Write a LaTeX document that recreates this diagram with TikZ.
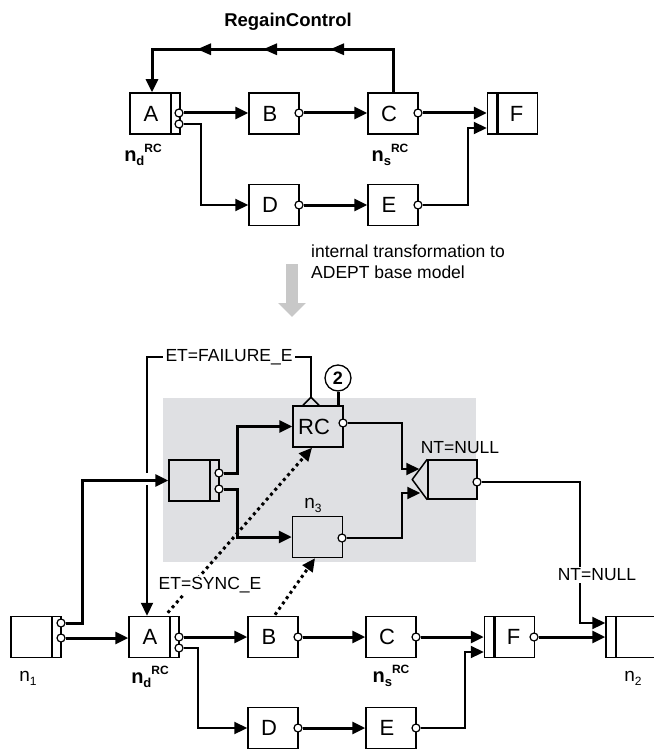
\documentclass[tikz,border=0pt]{standalone}
\usepackage{fontspec}
\setmainfont{Liberation Sans}
\usepackage{tikz}
\usetikzlibrary{arrows.meta,positioning,calc,decorations.markings}
\definecolor{panelgray}{RGB}{223,224,227}
\definecolor{arrowgray}{RGB}{200,200,200}
\newcommand{\boxfont}{\fontsize{22}{24}\selectfont}
\newcommand{\labfont}{\fontsize{17.5}{21}\selectfont}
\newcommand{\lft}[1]{#1\hspace*{8pt}}
\newcommand{\nrc}[1]{{\bfseries\fontsize{20}{20}\selectfont n\raisebox{-4pt}{\fontsize{13}{13}\selectfont #1}\raisebox{9pt}{\fontsize{12}{12}\selectfont RC}}}
\newcommand{\nidx}[1]{{\fontsize{19}{19}\selectfont n\raisebox{-4pt}{\fontsize{12}{12}\selectfont #1}}}

\begin{document}
\begin{tikzpicture}[x=1pt, y=-1pt,
    task/.style={draw, line width=1.5pt, minimum width=50pt, minimum height=41pt, inner sep=0pt, font=\boxfont},
    andsplit/.style={task, path picture={
        \draw[line width=2.6pt] ([xshift=-9pt]path picture bounding box.north east) -- ([xshift=-9pt]path picture bounding box.south east);}},
    andjoin/.style={task, path picture={
        \draw[line width=2.6pt] ([xshift=10pt]path picture bounding box.north west) -- ([xshift=10pt]path picture bounding box.south west);}},
    white box/.style={fill=white},
    port/.style={circle, draw, line width=1.2pt, fill=white, minimum size=8pt, inner sep=0pt},
    flow/.style={line width=3pt, -{Triangle[length=13pt,width=12pt]}},
    flowthin/.style={line width=2.2pt, -{Triangle[length=13pt,width=12pt]}},
    sync/.style={line width=3pt, dash pattern=on 3pt off 3.5pt, -{Triangle[length=13pt,width=12pt]}},
    lab/.style={font=\labfont, inner sep=2pt},
    backloop/.style={line width=3pt, -{Triangle[length=13pt,width=12pt]}, postaction={decorate},
        decoration={markings,
            mark=at position 106pt with {\arrow{Triangle[length=14pt,width=11pt]}},
            mark=at position 173pt with {\arrow{Triangle[length=14pt,width=11pt]}},
            mark=at position 239pt with {\arrow{Triangle[length=14pt,width=11pt]}}}}
]
    \useasboundingbox (0,0) rectangle (653,749);

    % Oberes Modell mit RegainControl
    \node[font=\fontsize{18.5}{20}\selectfont\bfseries] (title) at (288,22) {RegainControl};
    \node[andsplit, white box] (tA) at (155,113.5) {\lft{A}};
    \node[task, white box] (tB) at (274,113.5) {\lft{B}};
    \node[task, white box] (tC) at (393,113.5) {\lft{C}};
    \node[andjoin, white box] (tF) at (512.5,113.5) {\hspace*{8pt}F};
    \node[task, white box] (tD) at (274,205) {\lft{D}};
    \node[task, white box] (tE) at (393,205) {\lft{E}};
    \node[port] (tAo1) at (179,113) {};
    \node[port] (tAo2) at (179,124) {};
    \node[port] (tBo) at (299,113) {};
    \node[port] (tCo) at (418,113) {};
    \node[port] (tDo) at (299,205) {};
    \node[port] (tEo) at (418,205) {};
    \node (tAlab) at (143,155) {\nrc{d}};
    \node (tClab) at (390,155) {\nrc{s}};

    \draw[flow] (tAo1.east) -- (tAo1.east -| tB.west);
    \draw[flowthin] (tAo2.east) -- ++(17,0) |- (tD.west);
    \draw[flow] (tBo.east) -- (tBo.east -| tC.west);
    \draw[flow] (tCo.east) -- (tCo.east -| tF.west);
    \draw[flow] (tDo.east) -- (tDo.east -| tE.west);
    \draw[flowthin] (tEo.east) -- ++(45,0) |- ([yshift=-14.5pt]tF.west);
    \draw[backloop] (tC.north) -- ++(0,-43) -| ([xshift=-3pt]tA.north);

    % Transformation
    \draw[line width=12pt, draw=arrowgray, -{Triangle[length=14pt,width=27pt]}] (292,264) -- (292,317);
    \node[lab, anchor=west, align=left] (trafo) at (309,262) {internal transformation to\\ADEPT base model};

    % Unteres Modell (ADEPT-Basismodell)
    \fill[panelgray] (163,398) rectangle (476,562);
    \node[andsplit] (S) at (194,480.5) {};
    \node[task] (RC) at (318,426.5) {\lft{RC}};
    \node[task] (n3) at (317.5,537) {};
    \node[task, minimum width=49pt, minimum height=39pt] (J) at (452.5,479.5) {};
    \draw[line width=1.5pt] (J.north west) -- ([xshift=-15pt]J.west) -- (J.south west);
    \node[lab] (n3lab) at (313,505) {\nidx{3}};
    \node[lab] (Jlab) at (460,448) {NT=NULL};

    \node[andsplit, white box] (n1) at (36,637) {};
    \node[andsplit, white box] (bA) at (154,637) {\lft{A}};
    \node[task, white box] (bB) at (273,637) {\lft{B}};
    \node[task, white box] (bC) at (391,637) {\lft{C}};
    \node[andjoin, white box] (bF) at (509.5,637) {\hspace*{8pt}F};
    \node[andjoin, white box] (n2) at (631,637) {};
    \node[task, white box] (bD) at (273,728) {\lft{D}};
    \node[task, white box] (bE) at (391,728) {\lft{E}};
    \node (n1lab) at (28,678) {\nidx{1}};
    \node (bAlab) at (150,677) {\nrc{d}};
    \node (bClab) at (391,676) {\nrc{s}};
    \node (n2lab) at (633,678) {\nidx{2}};

    \node[port] (So1) at (219,473) {};
    \node[port] (So2) at (219,489) {};
    \node[port] (RCo) at (343,423) {};
    \node[port] (n3o) at (342,538) {};
    \node[port] (Jo) at (477,482) {};
    \node[port] (n1o1) at (61,623) {};
    \node[port] (n1o2) at (61,638) {};
    \node[port] (bAo1) at (179,637) {};
    \node[port] (bAo2) at (179,648) {};
    \node[port] (bBo) at (298,637) {};
    \node[port] (bCo) at (416,637) {};
    \node[port] (bFo) at (534,637) {};
    \node[port] (bDo) at (298,728) {};
    \node[port] (bEo) at (416,728) {};

    % Fehlerkante und Schleifenzaehler
    \coordinate (rcin) at ([xshift=-7pt,yshift=8pt]RC.north);
    \draw[line width=1.5pt] ([xshift=-15pt]RC.north) -- (rcin) -- ([xshift=1pt]RC.north);
    \draw[flowthin] (rcin) -- ++(0,-40) -| ([xshift=-7pt]bA.north);
    \node[lab, fill=white, inner sep=3pt] (etfail) at (229,357) {ET=FAILURE\_E};
    \node[circle, draw, line width=1.3pt, minimum size=26pt, inner sep=0pt, font=\fontsize{18}{18}\selectfont\bfseries] (cnt) at (338,378) {2};
    \draw[line width=3pt] ([xshift=20pt]RC.north) -- (cnt.south);

    % Kontrollfluss unten
    \fill[white] (145,473) rectangle (151,485);
    \draw[flow] (n1o1.east) -- ++(17,0) |- (S.west);
    \draw[flow] (n1o2.east) -- (n1o2.east -| bA.west);
    \draw[flow] (So1.east) -- ++(14,0) |- (RC.west);
    \draw[flow] (So2.east) -- ++(14,0) |- (n3.west);
    \draw[flowthin] (RCo.east) -- ++(54,0) |- ([xshift=-8pt,yshift=10.5pt]J.west);
    \draw[flowthin] (n3o.east) -- ++(55,0) |- ([xshift=-7pt,yshift=-13.5pt]J.west);
    \coordinate (ntc) at (580,600);
    \draw[flowthin] (Jo.east) -| (ntc) |- ([yshift=14pt]n2.west);
    \node[lab, fill=white] (ntlab) at (597,575) {NT=NULL};
    \draw[flow] (bAo1.east) -- (bAo1.east -| bB.west);
    \draw[flowthin] (bAo2.east) -- ++(14,0) |- (bD.west);
    \draw[flow] (bBo.east) -- (bBo.east -| bC.west);
    \draw[flow] (bCo.east) -- (bCo.east -| bF.west);
    \draw[flow] (bFo.east) -- (bFo.east -| n2.west);
    \draw[flow] (bDo.east) -- (bDo.east -| bE.west);
    \draw[flowthin] (bEo.east) -- ++(44,0) |- ([yshift=-15pt]bF.west);

    % Synchronisationskanten
    \draw[sync] ([xshift=-12pt,yshift=3pt]bA.north east) -- ([xshift=-6pt]RC.south);
    \draw[sync] ([xshift=2pt,yshift=1pt]bB.north) -- ([xshift=-2.5pt]n3.south);
    \node[lab, fill=white, inner sep=1pt] (etsync) at (210,585) {ET=SYNC\_E};
\end{tikzpicture}
\end{document}
